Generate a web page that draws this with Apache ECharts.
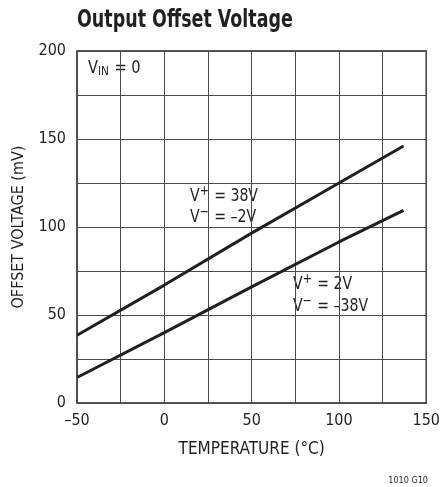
<!DOCTYPE html>
<html>
<head>
<meta charset="utf-8">
<script src="https://cdn.jsdelivr.net/npm/echarts@6/dist/echarts.min.js"></script>
<style>
  html, body { margin: 0; padding: 0; background: #fff; }
  #main { width: 443px; height: 487px; }
</style>
</head>
<body>
<div id="main"></div>
<script>
// 数据
const temps = [-50, 0, 50, 100, 137];
const vPlus38 = [38.5, 67, 96.5, 125, 146];   // V+ = 38V, V- = -2V
const vPlus2 = [14.5, 40, 66, 91.5, 109.5];   // V+ = 2V, V- = -38V
const xTicks = [-50, 0, 50, 100, 150];
const yTicks = [0, 50, 100, 150, 200];

const FONT = '"DejaVu Sans Condensed", "Liberation Sans Narrow", Arial, sans-serif';
const INK = '#231f20';

let myChart = echarts.init(document.getElementById('main'));

myChart.setOption({
    backgroundColor: '#fff',
    animation: false,
    grid: {
        left: 77, top: 51, width: 352, height: 352,
        show: true, borderColor: INK, borderWidth: 1.5
    },
    xAxis: {
        type: 'value',
        min: -50, max: 150, interval: 25,
        name: 'TEMPERATURE (°C)',
        nameLocation: 'middle',
        nameGap: 38,
        nameTextStyle: { fontFamily: FONT, fontSize: 17, color: INK },
        axisLine: { show: false },
        axisTick: { show: false },
        splitLine: { lineStyle: { color: '#4a4a4a', width: 1 } },
        axisLabel: {
            margin: 10,
            fontFamily: FONT, fontSize: 16, color: INK,
            formatter: v => xTicks.includes(v) ? (v < 0 ? '\u2013' + Math.abs(v) : String(v)) : ''
        }
    },
    yAxis: {
        type: 'value',
        min: 0, max: 200, interval: 25,
        name: 'OFFSET VOLTAGE (mV)',
        nameLocation: 'middle',
        nameGap: 50,
        nameTextStyle: { fontFamily: FONT, fontSize: 16, color: INK },
        axisLine: { show: false },
        axisTick: { show: false },
        splitLine: { lineStyle: { color: '#4a4a4a', width: 1 } },
        axisLabel: {
            margin: 11,
            fontFamily: FONT, fontSize: 16, color: INK,
            formatter: v => yTicks.includes(v) ? String(v) : ''
        }
    },
    series: [{
        name: 'V+ = 38V',
        type: 'line',
        data: temps.map((t, i) => [t, vPlus38[i]]),
        showSymbol: false,
        lineStyle: { color: INK, width: 3 }
    }, {
        name: 'V+ = 2V',
        type: 'line',
        data: temps.map((t, i) => [t, vPlus2[i]]),
        showSymbol: false,
        lineStyle: { color: INK, width: 3 }
    }],
    graphic: [
        {
            // 标题，横向压缩模拟窄体字
            type: 'text', x: 77, y: 21, scaleX: 0.81,
            style: {
                text: 'Output Offset Voltage',
                fontFamily: FONT, fontSize: 24, fontWeight: 'bold', fill: INK,
                verticalAlign: 'middle'
            }
        },
        labelText(88, 68, 'V{sub|IN} = 0', 0.9),
        labelText(190, 196, 'V{sup|+} = 38V', 0.87),
        labelText(190, 217, 'V{sup|\u2212} = \u20132V', 0.87),
        labelText(293, 284, 'V{sup|+} = 2V', 0.87),
        labelText(293, 306, 'V{sup|\u2212} = \u201338V', 0.87),
        {
            type: 'text', right: 15, top: 476,
            style: { text: '1010 G10', font: '9px ' + FONT, fill: INK }
        }
    ]
});

function labelText(x, y, str, sx) {
    return {
        type: 'text', x: x, y: y, scaleX: sx,
        style: {
            text: str,
            fontFamily: FONT, fontSize: 18, fill: INK,
            verticalAlign: 'middle',
            rich: {
                sup: { fontFamily: FONT, fontSize: 14, fill: INK, padding: [0, 1, 9, 0] },
                sub: { fontFamily: FONT, fontSize: 13, fill: INK, padding: [8, 1, 0, 0] }
            }
        }
    };
}
</script>
</body>
</html>
